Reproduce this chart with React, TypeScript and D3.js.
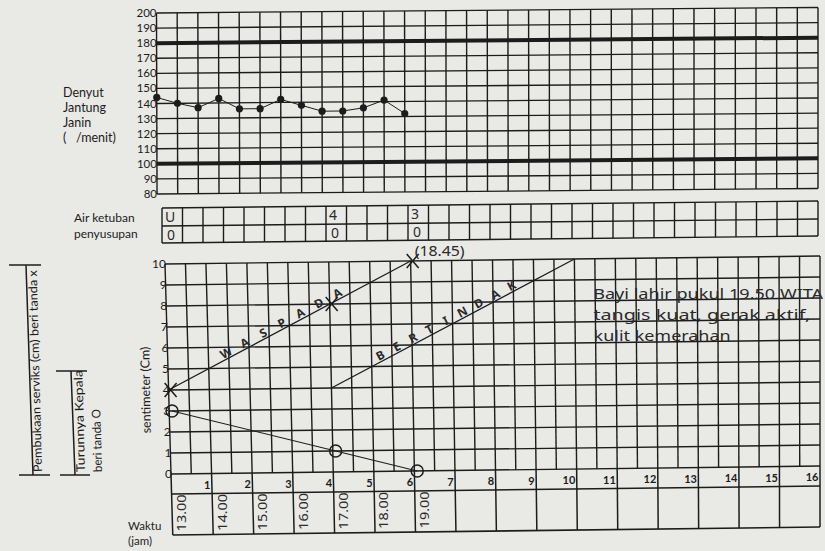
import React from 'react';
import * as d3 from 'd3';

// Denyut jantung janin, every half hour
const fhrTimes = [0, 0.5, 1, 1.5, 2, 2.5, 3, 3.5, 4, 4.5, 5, 5.5, 6];
const fhrValues = [144, 140, 137, 143, 136, 136, 142, 138, 134, 134, 136, 141, 132];
const fhrTicks = [200, 190, 180, 170, 160, 150, 140, 130, 120, 110, 100, 90, 80];
const fhrBold = [180, 100];

// Air ketuban / penyusupan entries (hours)
const ketubanTimes = [0, 4, 6];
const ketubanAir = ['U', '4', '3'];
const ketubanMolase = ['0', '0', '0'];

// Cervix chart
const cmTicks = [0, 1, 2, 3, 4, 5, 6, 7, 8, 9, 10];
const hourTicks = [1, 2, 3, 4, 5, 6, 7, 8, 9, 10, 11, 12, 13, 14, 15, 16];
const timeLabels = ['13.00', '14.00', '15.00', '16.00', '17.00', '18.00', '19.00'];
const dilationTimes = [0, 4, 6];
const dilationCm = [4, 8, 10];
const descentTimes = [0, 4, 6];
const descentCm = [3, 1, 0];
const alertLine = [[0, 4], [6, 10]];
const actionLine = [[4, 4], [10, 10]];
const alertText = 'WASPADA';
const actionText = 'BERTINDAK';
const notes = ['Bayi lahir pukul 19.50 WITA', 'tangis kuat, gerak aktif,', 'kulit kemerahan'];
const noteWidths = [230, 217, 137];

const INK = '#1c1c1c';
const PEN = '#2a2a2a';
const BG = '#e9e9e6';
const PRINT = 'Lato, "Open Sans", sans-serif';
const HAND = '"Noto Sans", "DejaVu Sans", sans-serif';

type Sec = { y0: number; l0: number; ls: number; r: number; tilt: number };
// the scan is slightly skewed, each block gets its own frame
const secFhr: Sec = { y0: 13, l0: 156.5, ls: 0.003, r: 818, tilt: 5.5 };
const secKet: Sec = { y0: 208, l0: 162, ls: 0, r: 818, tilt: 7 };
const secCx: Sec = { y0: 264, l0: 165, ls: 0.0286, r: 820, tilt: 8 };

export default function App() {
  const yFhr = d3.scaleLinear().domain([80, 200]).range([194, 13]);
  const yCm = d3.scaleLinear().domain([0, 10]).range([474, 264]);
  const frac = d3.scaleLinear().domain([0, 16]).range([0, 1]);
  const ketRows = [208, 226, 243];
  const hourRowBottom = 494;
  const timeRowBottom = 535;

  const warp = (s: Sec, h: number, y: number): [number, number] => {
    const left = s.l0 + s.ls * (y - s.y0);
    const f = frac(h);
    return [left + f * (s.r - left), y - s.tilt * f];
  };

  const seg = (k: string, s: Sec, h1: number, y1: number, h2: number, y2: number, w = 1.3) => {
    const [a, b] = warp(s, h1, y1);
    const [c, d] = warp(s, h2, y2);
    return <line key={k} x1={a} y1={b} x2={c} y2={d} stroke={INK} strokeWidth={w} />;
  };

  const halfHours = d3.range(0, 16.001, 0.5);
  const hours = d3.range(0, 17, 1);

  const fhrPts = fhrTimes.map((t, i) => warp(secFhr, t, yFhr(fhrValues[i])));
  const line = d3.line<[number, number]>();
  const descPts = descentTimes.map((t, i) => warp(secCx, t + 0.07, yCm(descentCm[i])));

  const along = (text: string, from: number[], h0: number, step: number, key: string) => {
    const p0 = warp(secCx, alertLine[0][0], yCm(alertLine[0][1]));
    const p1 = warp(secCx, alertLine[1][0], yCm(alertLine[1][1]));
    const ang = (Math.atan2(p1[1] - p0[1], p1[0] - p0[0]) * 180) / Math.PI;
    return text.split('').map((ch, i) => {
      const h = h0 + step * i;
      const cm = from[1] + (h - from[0]);
      const [x, y] = warp(secCx, h, yCm(cm));
      return (
        <text
          key={key + i}
          transform={`translate(${x},${y}) rotate(${ang})`}
          y={-1.5}
          textAnchor="middle"
          fontFamily={HAND}
          fontSize={12}
          fontWeight={700}
          fill={PEN}
        >
          {ch}
        </text>
      );
    });
  };

  const [d6x, d6y] = warp(secCx, dilationTimes[2], yCm(dilationCm[2]));

  return (
    <svg
      width={825}
      height={551}
      style={{ position: 'absolute', left: 0, top: 0, background: BG }}
    >
      <rect width={825} height={551} fill={BG} />

      {/* ---------- Denyut jantung janin ---------- */}
      {fhrTicks.map((v) =>
        seg('fh' + v, secFhr, 0, yFhr(v), 16, yFhr(v), fhrBold.includes(v) ? 4 : 1.3)
      )}
      {halfHours.map((h) => seg('fv' + h, secFhr, h, yFhr(200), h, yFhr(80), 1.4))}
      {fhrTicks.map((v) => {
        const [x, y] = warp(secFhr, 0, yFhr(v));
        return (
          <text key={'ft' + v} x={x} y={y + 4} textAnchor="end" fontFamily={PRINT} fontSize={11.5} fill={INK}>
            {v}
          </text>
        );
      })}
      <path d={line(fhrPts) || ''} fill="none" stroke={INK} strokeWidth={1} />
      {fhrPts.map(([x, y], i) => (
        <circle key={'fd' + i} cx={x} cy={y} r={3.6} fill={INK} />
      ))}
      {['Denyut', 'Jantung', 'Janin', '(   /menit)'].map((t, i) => (
        <text key={'dl' + i} x={63} y={97 + i * 15} fontFamily={PRINT} fontSize={12.5} fill={INK} style={{ whiteSpace: 'pre' }}>
          {t}
        </text>
      ))}

      {/* ---------- Air ketuban / penyusupan ---------- */}
      {ketRows.map((y, i) => seg('kh' + i, secKet, 0, y, 16, y, 1.4))}
      {halfHours.map((h) => seg('kv' + h, secKet, h, ketRows[0], h, ketRows[2], 1.4))}
      {ketubanTimes.map((t, i) => {
        const [x1, y1] = warp(secKet, t, 222);
        const [x2, y2] = warp(secKet, t, 240);
        return (
          <g key={'kt' + i} fontFamily={HAND} fontSize={14} fill={PEN}>
            <text x={x1 + 3} y={y1}>{ketubanAir[i]}</text>
            <text x={x2 + 5} y={y2}>{ketubanMolase[i]}</text>
          </g>
        );
      })}
      <text x={74} y={222} fontFamily={PRINT} fontSize={12} fill={INK}>Air ketuban</text>
      <text x={74} y={238} fontFamily={PRINT} fontSize={12} fill={INK}>penyusupan</text>

      {/* ---------- Pembukaan serviks ---------- */}
      {cmTicks.map((c) => seg('ch' + c, secCx, 0, yCm(c), 16, yCm(c), 1.4))}
      {halfHours.map((h) => seg('cv' + h, secCx, h, yCm(10), h, yCm(0), 1.4))}
      {cmTicks.map((c) => {
        const [x, y] = warp(secCx, 0, yCm(c));
        return (
          <text key={'ct' + c} x={x + 1} y={y + 4} textAnchor="end" fontFamily={PRINT} fontSize={12} fill={INK}>
            {c}
          </text>
        );
      })}

      {/* hour row + time row */}
      {seg('hr1', secCx, 0, hourRowBottom, 16, hourRowBottom, 1.5)}
      {seg('hr2', secCx, 0, timeRowBottom, 16, timeRowBottom, 1.6)}
      {hours.map((h) => seg('hv' + h, secCx, h, yCm(0), h, timeRowBottom, 1.5))}
      {hourTicks.map((h) => {
        const [x, y] = warp(secCx, h, 489);
        return (
          <text key={'ht' + h} x={x - 1.5} y={y} textAnchor="end" fontFamily={PRINT} fontSize={11} fontWeight={700} fill={INK}>
            {h}
          </text>
        );
      })}
      {timeLabels.map((t, i) => {
        const [x, y] = warp(secCx, i + 0.22, 513);
        return (
          <text
            key={'tl' + i}
            transform={`translate(${x},${y}) rotate(-90)`}
            textAnchor="middle"
            dominantBaseline="central"
            fontFamily={HAND}
            fontSize={13}
            textLength={37}
            lengthAdjust="spacingAndGlyphs"
            fill={PEN}
          >
            {t}
          </text>
        );
      })}

      {/* alert / action lines */}
      {seg('al', secCx, alertLine[0][0], yCm(alertLine[0][1]), alertLine[1][0], yCm(alertLine[1][1]), 1.3)}
      {seg('ac', secCx, actionLine[0][0], yCm(actionLine[0][1]), actionLine[1][0], yCm(actionLine[1][1]), 1.3)}
      {along(alertText, alertLine[0], 1.5, 0.46, 'wa')}
      {along(actionText, actionLine[0], 5.28, 0.405, 'be')}

      {/* descent */}
      <path d={line(descPts) || ''} fill="none" stroke={INK} strokeWidth={1.1} />
      {descPts.map(([x, y], i) => (
        <circle key={'dc' + i} cx={x} cy={y} r={6} fill="none" stroke={INK} strokeWidth={1.5} />
      ))}

      {/* dilation */}
      {dilationTimes.map((t, i) => {
        const [x, y] = warp(secCx, t + 0.05, yCm(dilationCm[i]));
        return (
          <g key={'dx' + i} stroke={INK} strokeWidth={1.5}>
            <line x1={x - 6} y1={y - 7} x2={x + 6} y2={y + 7} />
            <line x1={x + 6} y1={y - 7} x2={x - 6} y2={y + 7} />
          </g>
        );
      })}
      <text x={d6x + 4} y={d6y - 5} fontFamily={HAND} fontSize={14} textLength={50} lengthAdjust="spacingAndGlyphs" fill={PEN}>
        (18.45)
      </text>

      {notes.map((t, i) => {
        const [x, y] = warp(secCx, 10.45, yCm(8 - i) - 1.5);
        return (
          <text key={'nt' + i} x={x} y={y} fontFamily={HAND} fontSize={15} textLength={noteWidths[i]} lengthAdjust="spacingAndGlyphs" fill={PEN}>
            {t}
          </text>
        );
      })}

      {/* left labels */}
      <text x={128} y={530} fontFamily={PRINT} fontSize={11.5} fill={INK}>Waktu</text>
      <text x={128} y={545} fontFamily={PRINT} fontSize={11.5} fill={INK}>(jam)</text>
      <text transform="translate(150,390) rotate(-91)" textAnchor="middle" fontFamily={PRINT} fontSize={12.5} fill={INK}>
        sentimeter (Cm)
      </text>

      <g stroke={INK} strokeWidth={1.5}>
        <line x1={9} y1={265} x2={41} y2={265} />
        <line x1={19} y1={475} x2={50} y2={475} />
        <line x1={26} y1={265} x2={33} y2={475} />
        <line x1={56} y1={371} x2={87} y2={371} />
        <line x1={60} y1={475} x2={90} y2={475} />
        <line x1={71} y1={371} x2={75} y2={475} />
      </g>
      <text transform="translate(42,472) rotate(-91.5)" fontFamily={PRINT} fontSize={12} textLength={202} lengthAdjust="spacingAndGlyphs" fill={INK}>
        Pembukaan serviks (cm) beri tanda x
      </text>
      <text transform="translate(85,472) rotate(-91.5)" fontFamily={PRINT} fontSize={12} textLength={102} lengthAdjust="spacingAndGlyphs" fill={INK}>
        Turunnya Kepala
      </text>
      <text transform="translate(102,472) rotate(-91.5)" fontFamily={PRINT} fontSize={12} textLength={63} lengthAdjust="spacingAndGlyphs" fill={INK}>
        beri tanda O
      </text>
    </svg>
  );
}
